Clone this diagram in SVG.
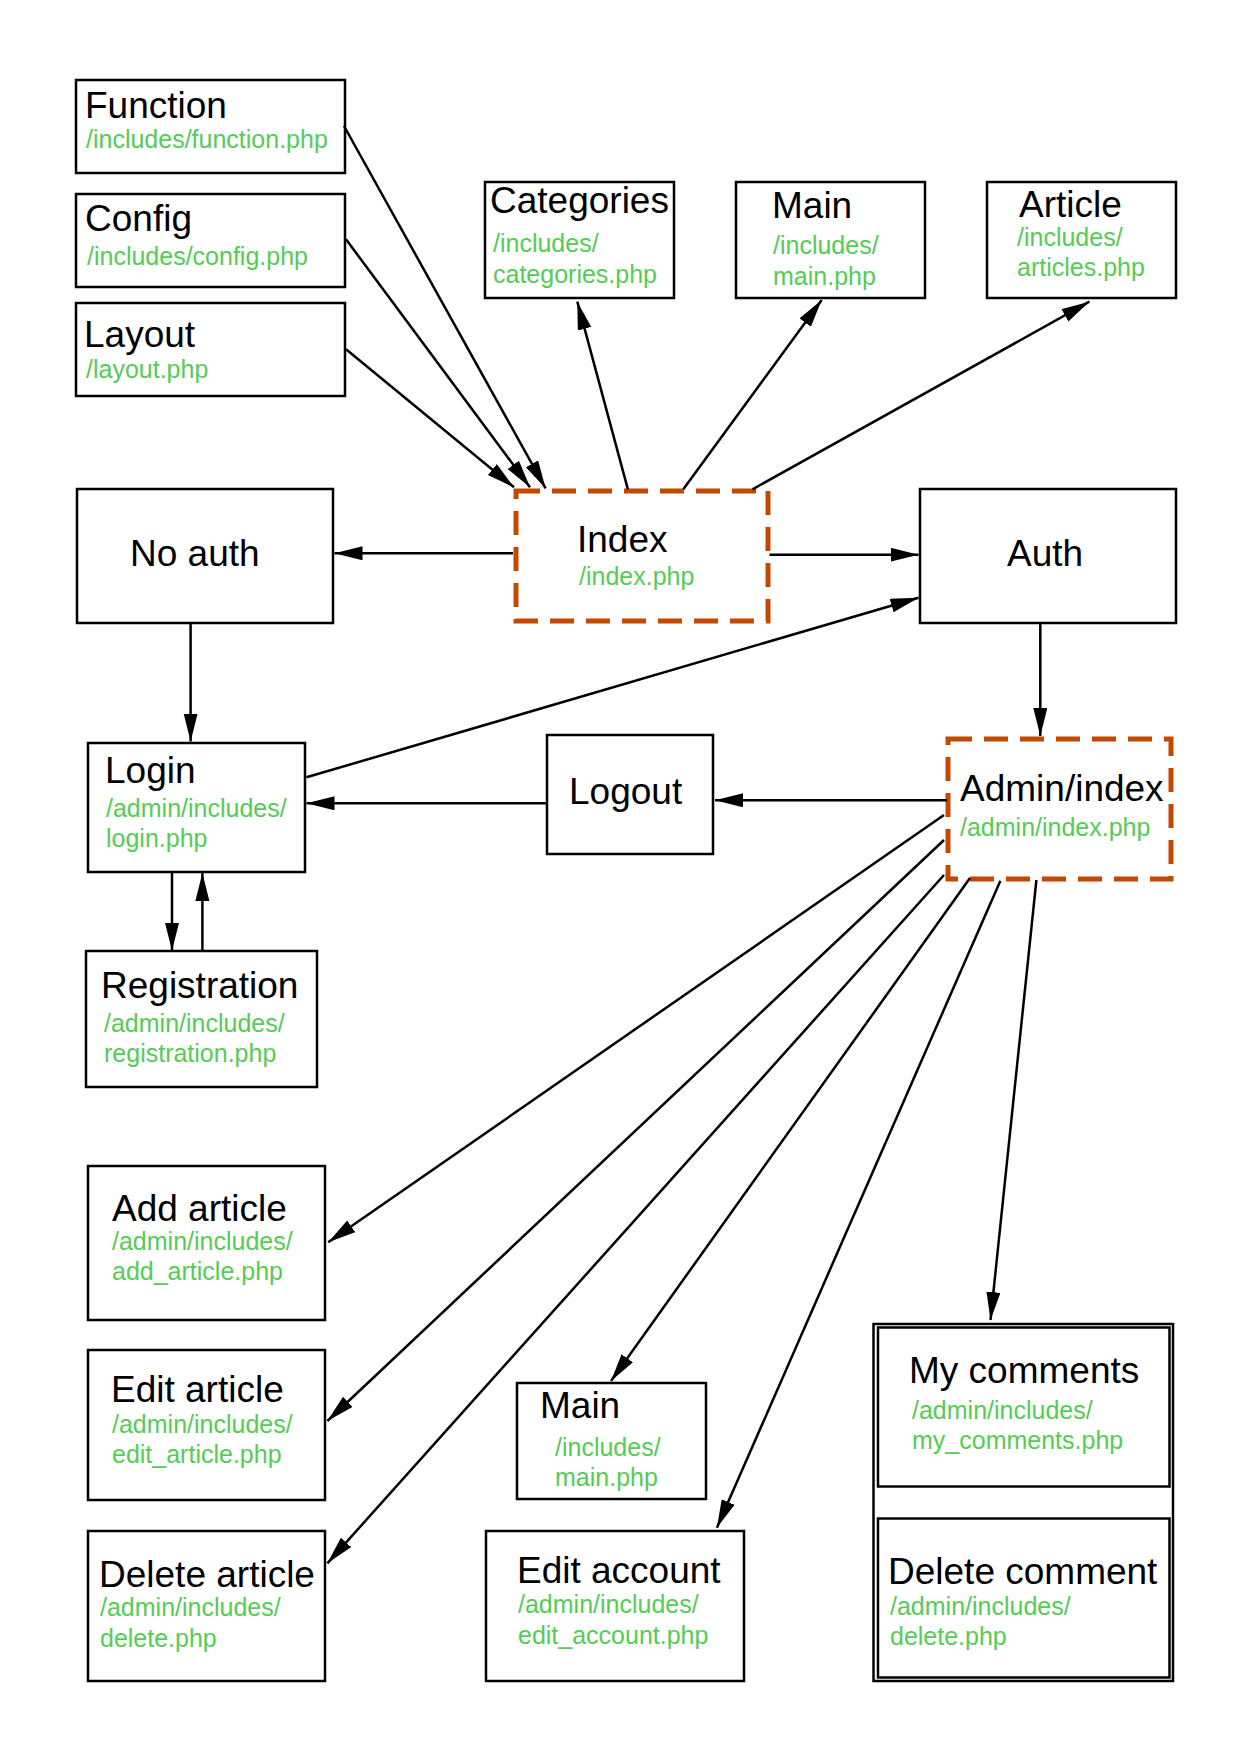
<svg xmlns="http://www.w3.org/2000/svg" width="1240" height="1754" viewBox="0 0 1240 1754">
<defs>
<marker id="arr" markerUnits="userSpaceOnUse" markerWidth="30" markerHeight="16" refX="28" refY="7" orient="auto">
<path d="M0,0 L28,7 L0,14 z" fill="#000"/>
</marker>
<style>
.box{fill:#fff;stroke:#000;stroke-width:2.5}
.dash{fill:#fff;stroke:#c44900;stroke-width:5;stroke-dasharray:24 12}
.t{font-family:"Liberation Sans",Arial,sans-serif;font-size:37px;fill:#000}
.g{font-family:"Liberation Sans",Arial,sans-serif;font-size:25px;fill:#55cc55}
.c line{stroke:#000;stroke-width:2.5;marker-end:url(#arr)}
</style>
</defs>
<rect width="1240" height="1754" fill="#fff"/>
<g id="function"><rect class="box" x="76" y="80" width="269" height="93"/><text class="t" x="85" y="118">Function</text><text class="g" x="86" y="148">/includes/function.php</text></g>
<g id="config"><rect class="box" x="76" y="194" width="269" height="93"/><text class="t" x="85" y="231">Config</text><text class="g" x="87" y="265">/includes/config.php</text></g>
<g id="layout"><rect class="box" x="76" y="303" width="269" height="93"/><text class="t" x="84" y="347">Layout</text><text class="g" x="86" y="378">/layout.php</text></g>
<g id="categories"><rect class="box" x="485" y="182" width="189" height="116"/><text class="t" x="490" y="213">Categories</text><text class="g" x="493" y="252">/includes/</text><text class="g" x="493" y="283">categories.php</text></g>
<g id="main-top"><rect class="box" x="736" y="182" width="189" height="116"/><text class="t" x="772" y="218">Main</text><text class="g" x="773" y="254">/includes/</text><text class="g" x="773" y="285">main.php</text></g>
<g id="article"><rect class="box" x="987" y="182" width="189" height="116"/><text class="t" x="1019" y="217">Article</text><text class="g" x="1017" y="246">/includes/</text><text class="g" x="1017" y="276">articles.php</text></g>
<g id="noauth"><rect class="box" x="77" y="489" width="256" height="134"/><text class="t" x="130" y="566">No auth</text></g>
<g id="index"><rect class="dash" x="516" y="491" width="252" height="130"/><text class="t" x="577" y="552">Index</text><text class="g" x="579" y="585">/index.php</text></g>
<g id="auth"><rect class="box" x="920" y="489" width="256" height="134"/><text class="t" x="1007" y="566">Auth</text></g>
<g id="login"><rect class="box" x="88" y="743" width="217" height="129"/><text class="t" x="105" y="783">Login</text><text class="g" x="106" y="817">/admin/includes/</text><text class="g" x="106" y="847">login.php</text></g>
<g id="logout"><rect class="box" x="547" y="735" width="166" height="119"/><text class="t" x="569" y="804">Logout</text></g>
<g id="adminindex"><rect class="dash" x="948" y="739" width="223" height="140"/><text class="t" x="960" y="801">Admin/index</text><text class="g" x="960" y="836">/admin/index.php</text></g>
<g id="registration"><rect class="box" x="86" y="951" width="231" height="136"/><text class="t" x="101" y="998">Registration</text><text class="g" x="104" y="1032">/admin/includes/</text><text class="g" x="104" y="1062">registration.php</text></g>
<g id="addarticle"><rect class="box" x="88" y="1166" width="237" height="154"/><text class="t" x="112" y="1221">Add article</text><text class="g" x="112" y="1250">/admin/includes/</text><text class="g" x="112" y="1280">add_article.php</text></g>
<g id="editarticle"><rect class="box" x="88" y="1350" width="237" height="150"/><text class="t" x="111" y="1402">Edit article</text><text class="g" x="112" y="1433">/admin/includes/</text><text class="g" x="112" y="1463">edit_article.php</text></g>
<g id="deletearticle"><rect class="box" x="88" y="1531" width="237" height="150"/><text class="t" x="99" y="1587">Delete article</text><text class="g" x="100" y="1616">/admin/includes/</text><text class="g" x="100" y="1647">delete.php</text></g>
<g id="main-bottom"><rect class="box" x="517" y="1383" width="189" height="116"/><text class="t" x="540" y="1418">Main</text><text class="g" x="555" y="1456">/includes/</text><text class="g" x="555" y="1486">main.php</text></g>
<g id="editaccount"><rect class="box" x="486" y="1531" width="258" height="150"/><text class="t" x="517" y="1583">Edit account</text><text class="g" x="518" y="1613">/admin/includes/</text><text class="g" x="518" y="1644">edit_account.php</text></g>
<g id="comments-group"><rect class="box" x="873.5" y="1324" width="299.5" height="357"/></g>
<g id="mycomments"><rect class="box" x="878" y="1327.5" width="291.5" height="159"/><text class="t" x="909" y="1383">My comments</text><text class="g" x="912" y="1419">/admin/includes/</text><text class="g" x="912" y="1449">my_comments.php</text></g>
<g id="deletecomment"><rect class="box" x="878" y="1518.5" width="291.5" height="159"/><text class="t" x="888" y="1584">Delete comment</text><text class="g" x="890" y="1615">/admin/includes/</text><text class="g" x="890" y="1645">delete.php</text></g>
<g id="connectors" class="c">
<line x1="344" y1="126" x2="545.6" y2="488.3"/>
<line x1="346" y1="239.3" x2="530" y2="487.3"/>
<line x1="346" y1="349.3" x2="514" y2="487.3"/>
<line x1="627.9" y1="489.3" x2="577.3" y2="301.7"/>
<line x1="683.3" y1="489.3" x2="821.7" y2="300"/>
<line x1="752.5" y1="489.3" x2="1089.4" y2="301.7"/>
<line x1="513" y1="553.3" x2="334.5" y2="553.3"/>
<line x1="769.5" y1="554.7" x2="918.5" y2="554.7"/>
<line x1="190.6" y1="623" x2="190.6" y2="741.5"/>
<line x1="1040.3" y1="623" x2="1040.3" y2="736"/>
<line x1="306.5" y1="777.3" x2="918.5" y2="597.7"/>
<line x1="546" y1="803.3" x2="306.5" y2="803.3"/>
<line x1="947" y1="800.3" x2="715" y2="800.3"/>
<line x1="172" y1="871.7" x2="172" y2="950.7"/>
<line x1="202.4" y1="950.7" x2="202.4" y2="873"/>
<line x1="944" y1="815" x2="328.2" y2="1242.3"/>
<line x1="944" y1="840" x2="327.4" y2="1421"/>
<line x1="944" y1="875" x2="327.4" y2="1563.3"/>
<line x1="970" y1="878" x2="611" y2="1381"/>
<line x1="1000.4" y1="880.7" x2="716.9" y2="1527.7"/>
<line x1="1036.4" y1="880" x2="990.5" y2="1320"/>
</g>
</svg>
